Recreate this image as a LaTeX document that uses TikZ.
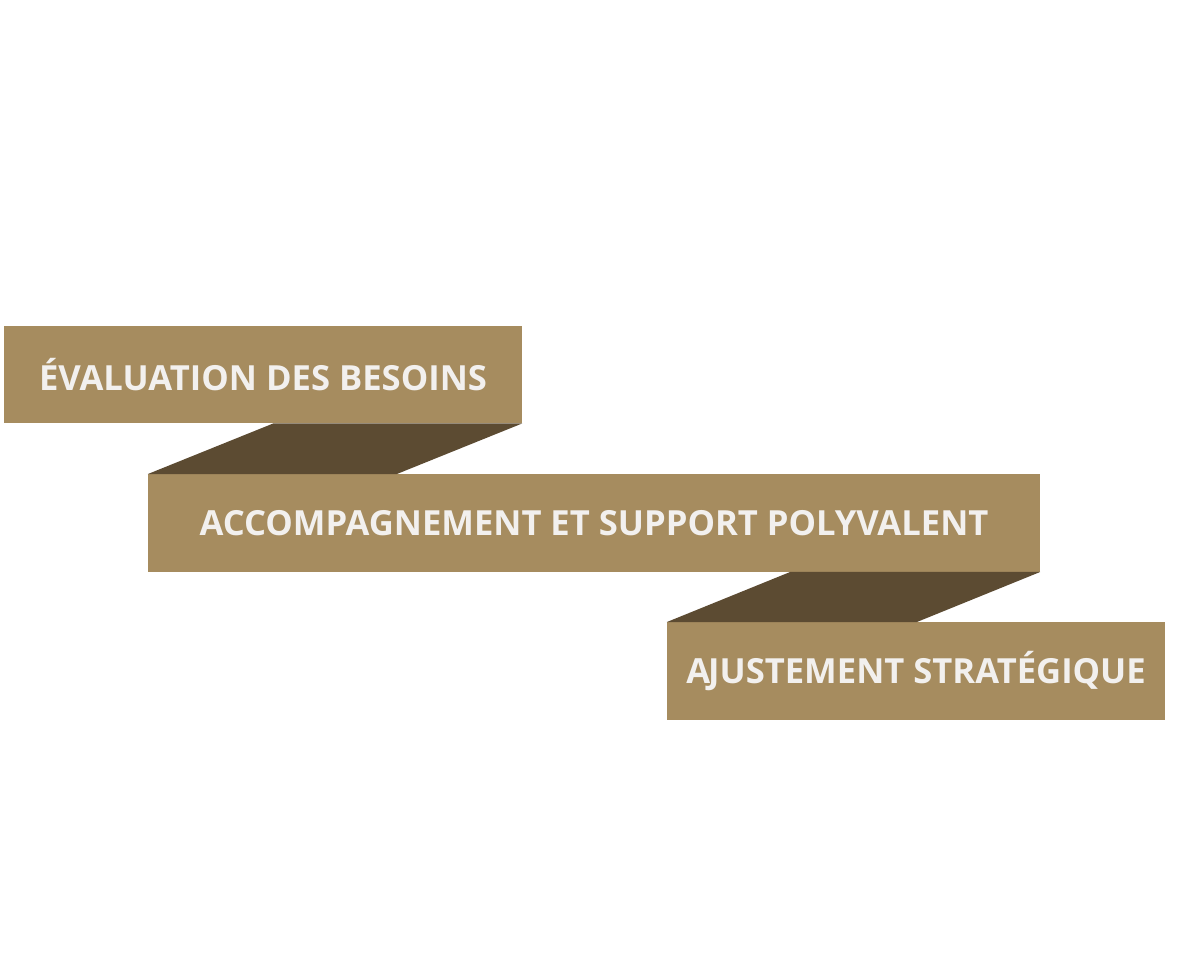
\documentclass[tikz,border=0pt]{standalone}
\usepackage{fontspec}
\setmainfont{Open Sans}
\usetikzlibrary{calc}
\definecolor{ribbon}{HTML}{A68C5F}
\definecolor{fold}{HTML}{5C4B32}
\definecolor{label}{HTML}{F2F0EE}
\tikzset{
  band/.style={rectangle, fill=ribbon, inner sep=0pt, minimum height=97.5pt,
    text=label, font=\bfseries\fontsize{34.6}{38}\selectfont},
  crease/.style={fill=fold}
}
\begin{document}
\begin{tikzpicture}[x=1pt, y=-1pt]
      \useasboundingbox (0,0) rectangle (1200,956);

      \node[band, minimum width=518pt] (b1) at (263,374.5) {ÉVALUATION DES BESOINS};
      \node[band, minimum width=892pt] (b2) at (594,523) {ACCOMPAGNEMENT ET SUPPORT POLYVALENT};
      \node[band, minimum width=498pt] (b3) at (916,671) {A\kern-2pt JUSTEMENT STRATÉGIQUE};

      % folds between the bands
      \fill[crease] ($(b1.south east)+(-249,0)$) -- (b1.south east) -- ($(b2.north west)+(249,0)$) -- (b2.north west) -- cycle;
      \fill[crease] ($(b2.south east)+(-250,0)$) -- (b2.south east) -- ($(b3.north west)+(250,0)$) -- (b3.north west) -- cycle;
    \end{tikzpicture}
\end{document}
